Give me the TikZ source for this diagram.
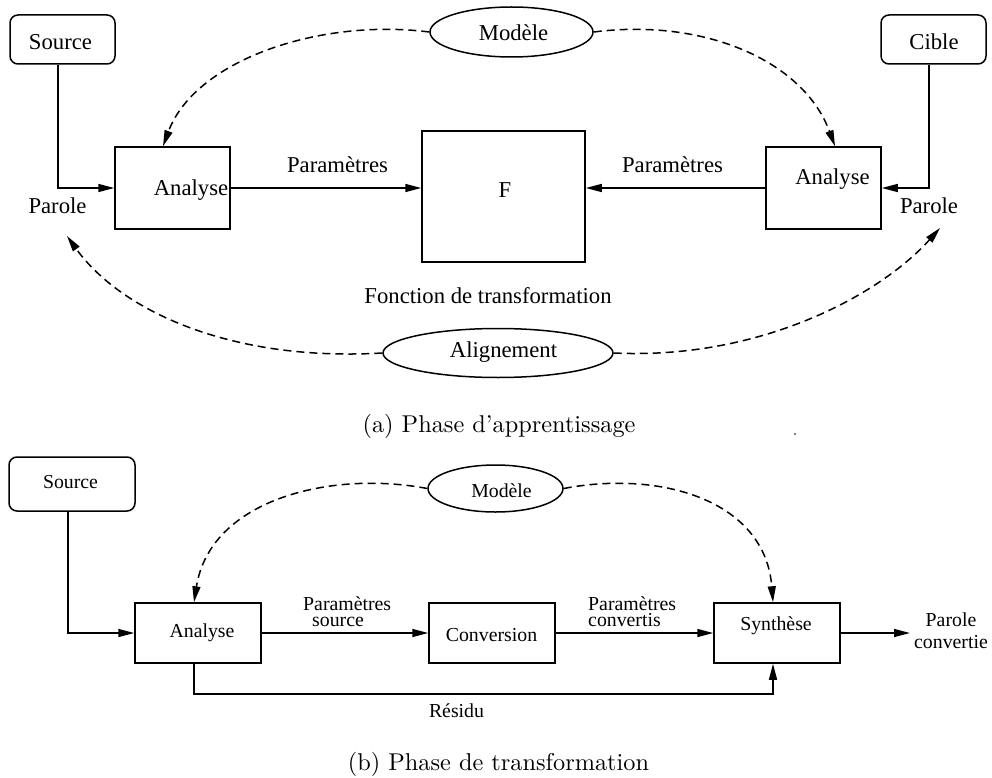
\documentclass[tikz,border=0pt]{standalone}
\usepackage{fontspec}
\usetikzlibrary{arrows.meta,shapes.geometric}
\newfontfamily\tnr{Liberation Serif}
\newfontfamily\capfont{lmroman10-regular.otf}
\begin{document}
\begin{tikzpicture}[x=1pt,y=-1pt,
  blk/.style={draw,line width=1.5pt,rectangle,inner sep=0pt},
  rnd/.style={blk,rounded corners=8pt},
  ell/.style={draw,line width=1.5pt,ellipse,inner sep=0pt},
  big/.style={font=\tnr\fontsize{22.7}{26}\selectfont,inner sep=0pt},
  sml/.style={font=\tnr\fontsize{19.8}{22}\selectfont,inner sep=0pt},
  tight/.style={font=\tnr\fontsize{19.8}{15.5}\selectfont,inner sep=0pt},
  captxt/.style={font=\capfont\fontsize{24.3}{28}\selectfont,inner sep=0pt},
  arr/.style={line width=1.5pt,-{Triangle[length=16pt,width=8pt]}},
  darr/.style={arr,dash pattern=on 8pt off 5pt}]
\useasboundingbox (0,0) rectangle (992,778);

% ---------- (a) ----------
\node[rnd,minimum width=105pt,minimum height=49pt] (src1) at (62.5,39.5) {};
\node[blk,minimum width=115pt,minimum height=82pt] (ana1) at (172.5,188) {};
\node[blk,minimum width=163pt,minimum height=131pt] (F) at (503.5,196.5) {};
\node[blk,minimum width=115pt,minimum height=82pt] (ana2) at (823.5,188) {};
\node[rnd,minimum width=105pt,minimum height=49pt] (cib) at (933.5,39.5) {};
\node[ell,minimum width=163pt,minimum height=50pt] (mod1) at (511.5,32) {};
\node[ell,minimum width=230pt,minimum height=49pt] (ali) at (498,353) {};

\node[big,anchor=base] (tsrc1) at (60.5,50) {Source};
\node[big,anchor=base] (tcib) at (934,50) {Cible};
\node[big,anchor=base] (tmod1) at (513.5,41) {Modèle};
\node[big,anchor=base] (tana1) at (191,195) {Analyse};
\node[big,anchor=base] (tpar1) at (57.5,213) {Parole};
\node[big,anchor=base] (tprm1) at (337.5,172) {Paramètres};
\node[big,anchor=base] (tF) at (505,197) {F};
\node[big,anchor=base] (tprm2) at (672.5,172) {Paramètres};
\node[big,anchor=base] (tana2) at (832.5,184) {Analyse};
\node[big,anchor=base] (tpar2) at (929,213) {Parole};
\node[big,anchor=base] (tfct) at (488,303) {Fonction de transformation};
\node[big,anchor=base] (tali) at (503.5,357) {Alignement};
\node[captxt,anchor=base] (capa) at (499,432) {(a)\ Phase d’apprentissage};

\coordinate (pl) at (67,236);
\coordinate (pr) at (940,228);

\draw[arr] ([xshift=-4.5pt]src1.south) |- (ana1.west);
\draw[arr] (ana1.east) -- (ana1.east -| F.west);
\draw[arr] (ana2.west) -- (ana2.west -| F.east);
\draw[arr] ([xshift=-4.5pt]cib.south) |- (ana2.east);
\draw[darr] (mod1.west) .. controls (320,18) and (195,60) .. ([xshift=-9.5pt]ana1.north);
\draw[darr] (mod1.east) .. controls (703,18) and (803,60) .. ([xshift=11.5pt]ana2.north);
\draw[darr] (ali.west) .. controls (230,362) and (120,310) .. (pl);
\draw[darr] (ali.east) .. controls (760,360) and (880,295) .. (pr);

\fill (795,434) circle (0.9pt);

% ---------- (b) ----------
\node[rnd,minimum width=126pt,minimum height=54pt] (src2) at (72,484) {};
\node[blk,minimum width=126pt,minimum height=60pt] (ana3) at (198,633) {};
\node[blk,minimum width=126pt,minimum height=60pt] (conv) at (492,633) {};
\node[blk,minimum width=126pt,minimum height=60pt] (syn) at (777,633) {};
\node[ell,minimum width=135pt,minimum height=47pt] (mod2) at (495.5,488.5) {};

\node[sml,anchor=base] (tsrc2) at (70.5,488) {Source};
\node[sml,anchor=base] (tmod2) at (501.5,497) {Modèle};
\node[sml,anchor=base] (tana3) at (202,637) {Analyse};
\node[tight,align=left,anchor=base west] (tps) at (303,626) {Paramètres\\\hspace*{9pt}source};
\node[sml,anchor=base] (tconv) at (491.5,641) {Conversion};
\node[tight,align=left,anchor=base west] (tpc) at (588,626) {Paramètres\\convertis};
\node[sml,anchor=base] (tsyn) at (776,630) {Synthèse};
\node[sml,align=center,anchor=base] (tpo) at (951,648) {Parole\\convertie};
\node[sml,anchor=base] (tres) at (456.5,717) {Résidu};
\node[captxt,anchor=base] (capb) at (498.5,770) {(b)\ Phase de transformation};

\coordinate (out) at (910,633);
\coordinate (rb) at (0,694);

\draw[arr] ([xshift=-4pt]src2.south) |- (ana3.west);
\draw[arr] (ana3.east) -- (conv.west);
\draw[arr] (conv.east) -- (syn.west);
\draw[arr] (syn.east) -- (out);
\draw[arr] ([xshift=-4pt]ana3.south) -- ([xshift=-4pt]ana3.south |- rb) -| ([xshift=-4pt]syn.south);
\draw[darr] (mod2.west) .. controls (330,470) and (210,500) .. ([xshift=-4pt]ana3.north);
\draw[darr] (mod2.east) .. controls (660,470) and (765,500) .. ([xshift=-4pt]syn.north);
\end{tikzpicture}
\end{document}
